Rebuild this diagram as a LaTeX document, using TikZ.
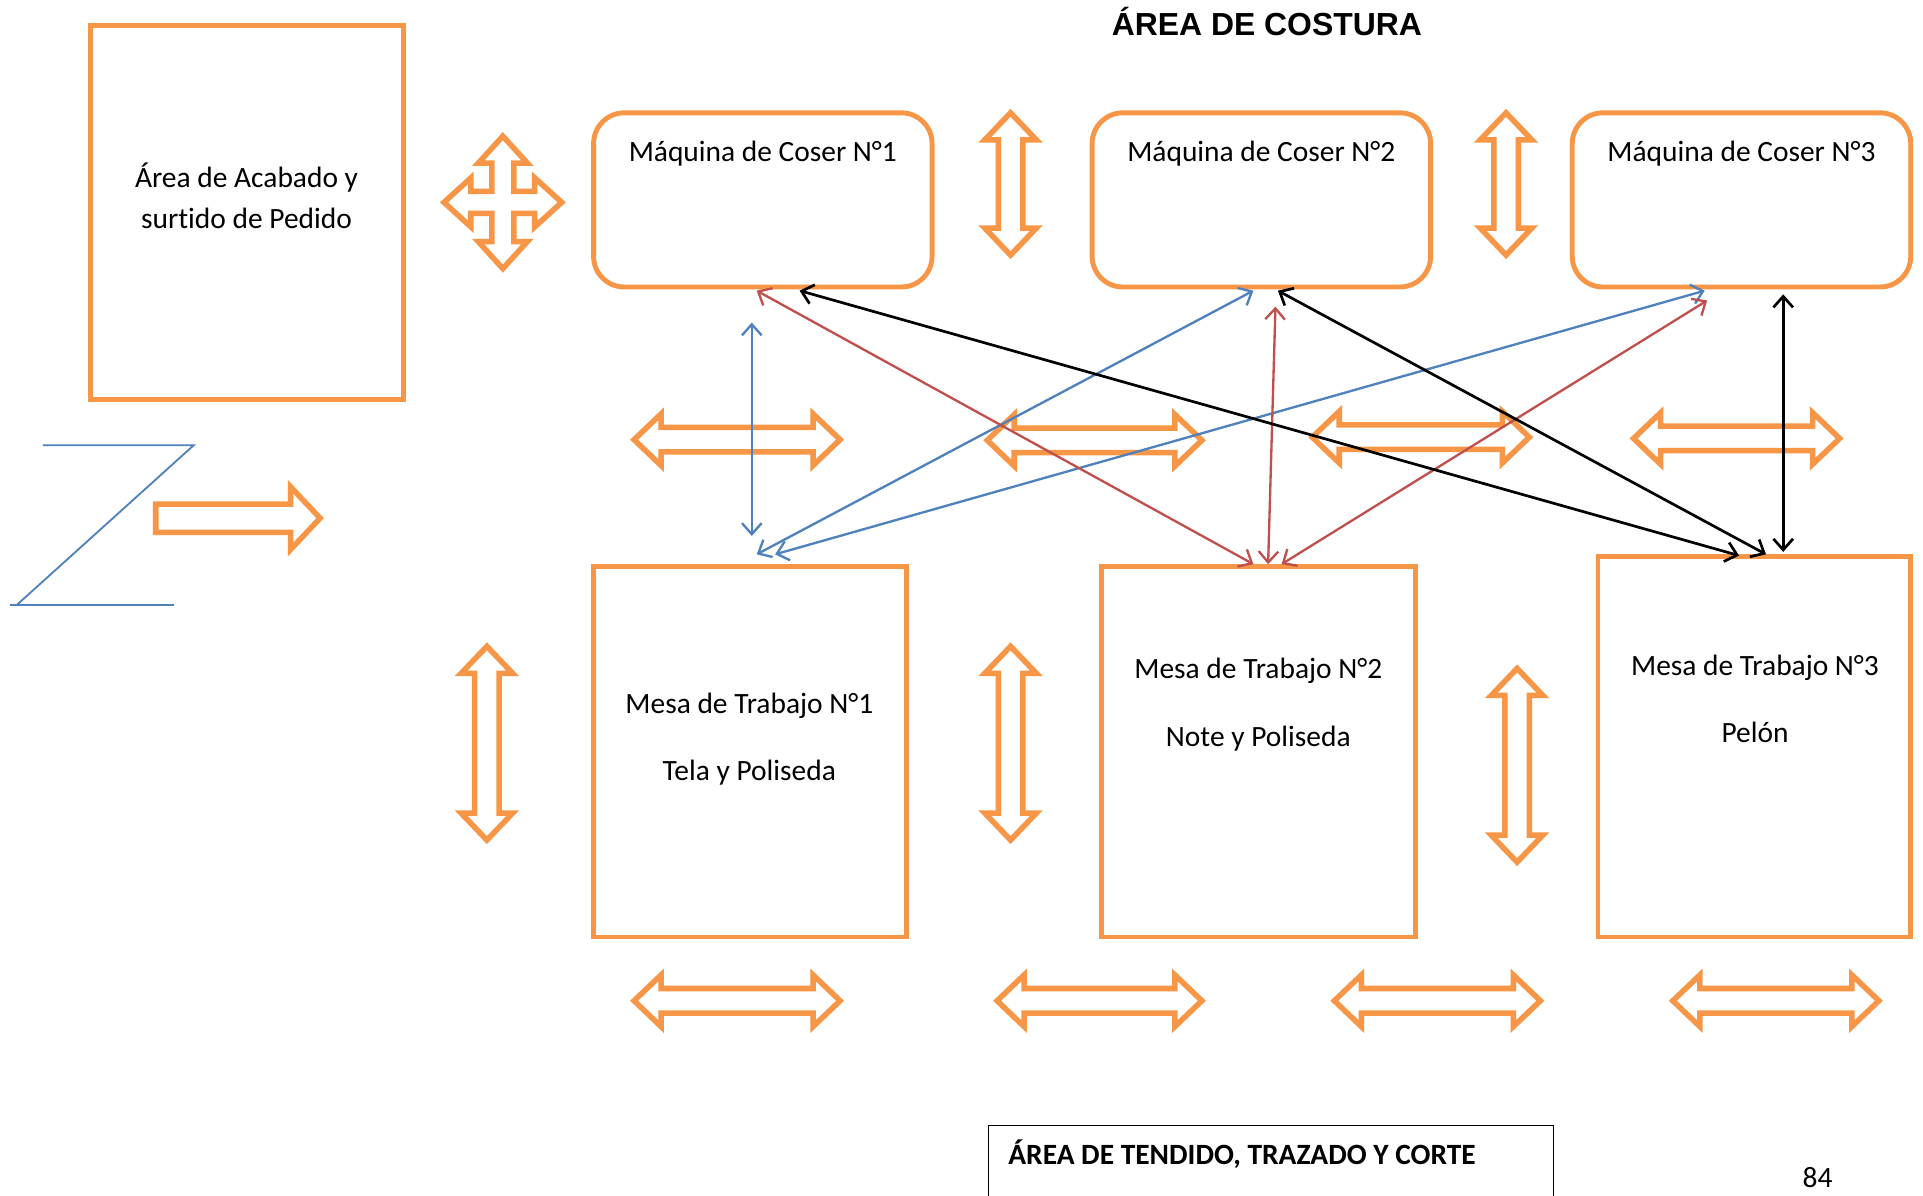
\documentclass[tikz,border=0pt]{standalone}
\usepackage{fontspec}
\setmainfont{Carlito}[Ligatures=NoCommon]
\newfontfamily\titlefont{Liberation Sans}
\usetikzlibrary{arrows.meta,calc}
\definecolor{orng}{HTML}{F79646}
\definecolor{bluel}{HTML}{4F81BD}
\definecolor{redl}{HTML}{C0504D}
\tikzset{
  obox/.style={draw=orng, line width=4pt, rectangle},
  mbox/.style={obox, rounded corners=25pt, minimum width=276pt, minimum height=142pt},
  txt/.style={font=\fontsize{24}{33}\selectfont, inner sep=0pt, text=black},
  blkarrow/.style={draw=orng, line width=4.5pt, line join=miter, miter limit=10},
  conn/.style={line width=1.9pt, {Straight Barb[length=9pt,width=16pt]}-{Straight Barb[length=9pt,width=16pt]}},
  bconn/.style={conn, draw=bluel},
  rconn/.style={conn, draw=redl},
  kconn/.style={conn, draw=black, line width=2.2pt}
}
\newcommand{\darr}[4]{%
  \begin{scope}[shift={(#1,#2)},rotate=#3]
    \draw[blkarrow] (-#4,0) -- ({-#4+22},-21) -- ({-#4+22},-10) -- ({#4-22},-10) -- ({#4-22},-21) -- (#4,0)
      -- ({#4-22},21) -- ({#4-22},10) -- ({-#4+22},10) -- ({-#4+22},21) -- cycle;
  \end{scope}}
\begin{document}
\begin{tikzpicture}[x=1pt,y=-1pt]
\clip (0,0) rectangle (1568,975);
\fill[white] (0,0) rectangle (1568,975);

% title
\node[anchor=base, inner sep=0pt, font=\titlefont\bfseries\fontsize{26}{30}\selectfont] (title) at (1033,29) {ÁREA DE COSTURA};

% left area
\node[obox, minimum width=255pt, minimum height=305pt] (acab) at (201.5,173.5) {};
\node[txt, align=center] (acabT) at (201,159.5) {Área de Acabado y\\surtido de Pedido};

% machines
\node[mbox] (M1) at (622,163) {};
\node[mbox] (M2) at (1028.5,163) {};
\node[mbox] (M3) at (1420,163) {};
\node[txt, anchor=base] (M1T) at (622,132) {Máquina de Coser N°1};
\node[txt, anchor=base] (M2T) at (1028.5,132) {Máquina de Coser N°2};
\node[txt, anchor=base] (M3T) at (1420,132) {Máquina de Coser N°3};

% tables
\node[obox, minimum width=255pt, minimum height=302pt] (T1) at (611.5,613) {};
\node[obox, minimum width=256pt, minimum height=302pt] (T2) at (1026,613) {};
\node[obox, minimum width=255pt, minimum height=310pt] (T3) at (1430.5,609) {};
\node[txt, align=center] (T1T) at (611,602.5) {Mesa de Trabajo N°1\\[22pt]Tela y Poliseda};
\node[txt, align=center] (T2T) at (1026,574.5) {Mesa de Trabajo N°2\\[22pt]Note y Poliseda};
\node[txt, align=center] (T3T) at (1431,570) {Mesa de Trabajo N°3\\[22pt]Pelón};

% four-way arrow
\begin{scope}[shift={(410,165)}]
\draw[blkarrow] (0,-54) -- (20,-32) -- (9,-32) -- (9,-9) -- (26,-9) -- (26,-20) -- (48,0)
  -- (26,20) -- (26,9) -- (9,9) -- (9,32) -- (20,32) -- (0,54) -- (-20,32) -- (-9,32)
  -- (-9,9) -- (-26,9) -- (-26,20) -- (-48,0) -- (-26,-20) -- (-26,-9) -- (-9,-9)
  -- (-9,-32) -- (-20,-32) -- cycle;
\end{scope}

% double arrows
\darr{824}{150}{90}{58}
\darr{1228}{150}{90}{58}
\darr{601}{358.5}{0}{84}
\darr{892.5}{359}{0}{87.5}
\darr{1158.5}{356.5}{0}{88.5}
\darr{1416}{357.5}{0}{84}
\darr{397}{606}{90}{79}
\darr{824}{606}{90}{79}
\darr{1237}{624}{90}{79}
\darr{601}{816}{0}{84}
\darr{896.5}{816}{0}{83.5}
\darr{1172}{816}{0}{84}
\darr{1448}{816}{0}{84}

% Z and single arrow
\draw[bluel, line width=1.5pt] (35,363) -- (158,363) -- (14,493);
\draw[bluel, line width=1.5pt] (8,493) -- (142,493);
\draw[blkarrow] (127,411) -- (237,411) -- (237,397) -- (261,422.5) -- (237,448) -- (237,434) -- (127,434) -- cycle;

% connectors
\draw[bconn] ($(M1.south)+(-9,27)$) -- ($(T1.north)+(1.5,-23)$);
\draw[bconn] ($(M2.south)+(-6.5,1)$) -- ($(T1.north)+(5.5,-8)$);
\draw[bconn] ($(M3.south)+(-30,1)$) -- ($(T1.north)+(20.5,-8)$);
\draw[rconn] ($(M1.south)+(-5,1)$) -- ($(T2.north)+(-4,0)$);
\draw[rconn] ($(M2.south)+(11.5,14)$) -- ($(T2.north)+(8,0)$);
\draw[rconn] ($(M3.south)+(-28,9)$) -- ($(T2.north)+(19,0)$);
\draw[kconn] ($(M1.south)+(30,1)$) -- ($(T3.north)+(-12.5,1)$);
\draw[kconn] ($(M2.south)+(13.5,1)$) -- ($(T3.north)+(9.5,0)$);
\draw[kconn] ($(M3.south)+(34,4)$) -- ($(T3.north)+(23.5,-2)$);

% bottom box
\node[draw=black, line width=0.8pt, minimum width=460pt, minimum height=120pt, anchor=north west] (corte) at (806,917) {};
\node[txt, anchor=west, font=\bfseries\fontsize{24}{33}\selectfont] (corteT) at (822,941) {ÁREA DE TENDIDO, TRAZADO Y CORTE};
\node[txt, anchor=base] (pg) at (1482,968) {84};
\end{tikzpicture}
\end{document}
